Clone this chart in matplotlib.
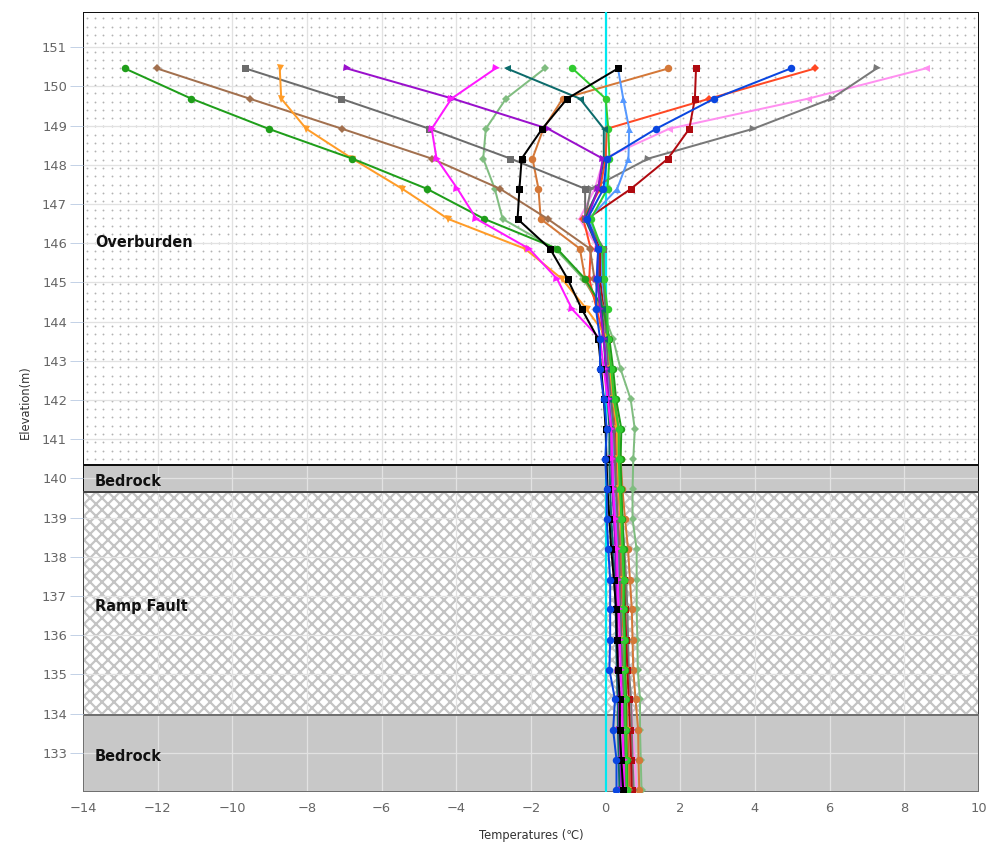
import numpy as np
import matplotlib
matplotlib.use("Agg")
import matplotlib.pyplot as plt
from matplotlib.patches import Rectangle

# elevations of the sensors (m)
elevation = [150.46, 149.69, 148.92, 148.16, 147.39, 146.62, 145.86, 145.09, 144.32,
             143.56, 142.79, 142.02, 141.26, 140.49, 139.72, 138.96, 138.19, 137.42,
             136.66, 135.89, 135.12, 134.36, 133.59, 132.82, 132.06]

# temperature profiles (degC)
t_green = [-12.88, -11.10, -9.03, -6.79, -4.79, -3.25, -1.30, -0.55, -0.06,
           0.10, 0.20, 0.28, 0.42, 0.40, 0.42, 0.45, 0.48, 0.50, 0.50, 0.52, 0.52, 0.55, 0.55, 0.57, 0.58]
t_sienna = [-12.02, -9.54, -7.06, -4.66, -2.83, -1.55, -0.42, -0.30, -0.05,
            0.05, 0.15, 0.22, 0.30, 0.32, 0.35, 0.40, 0.42, 0.45, 0.47, 0.50, 0.52, 0.55, 0.57, 0.60, 0.62]
t_gray_sq = [-9.65, -7.10, -4.72, -2.55, -0.55, -0.55, -0.06, -0.06, 0.00,
             0.02, 0.08, 0.15, 0.22, 0.25, 0.28, 0.32, 0.36, 0.38, 0.40, 0.42, 0.45, 0.48, 0.50, 0.52, 0.55]
t_orange = [-8.73, -8.69, -8.02, -6.79, -5.45, -4.22, -2.16, -1.17, -0.51,
            0.07, 0.12, 0.20, 0.30, 0.32, 0.35, 0.40, 0.45, 0.47, 0.48, 0.50, 0.52, 0.55, 0.56, 0.58, 0.59]
t_purple = [-6.93, -4.10, -1.54, -0.08, -0.20, -0.50, -0.20, -0.22, -0.15,
            -0.05, 0.02, 0.08, 0.15, 0.15, 0.18, 0.22, 0.26, 0.28, 0.30, 0.32, 0.34, 0.36, 0.37, 0.40, 0.42]
t_magenta = [-2.95, -4.13, -4.66, -4.53, -3.97, -3.46, -2.05, -1.30, -0.90,
             -0.15, -0.05, 0.05, 0.15, 0.18, 0.20, 0.25, 0.30, 0.32, 0.35, 0.38, 0.40, 0.43, 0.45, 0.48, 0.50]
t_teal = [-2.65, -0.69, -0.05, -0.05, -0.20, -0.55, -0.20, -0.20, -0.10,
          -0.05, 0.00, 0.05, 0.10, 0.10, 0.12, 0.15, 0.20, 0.25, 0.27, 0.28, 0.30, 0.32, 0.33, 0.35, 0.37]
t_sage = [-1.63, -2.67, -3.21, -3.28, -2.97, -2.76, -1.35, -0.60, -0.10,
          0.20, 0.40, 0.67, 0.78, 0.74, 0.72, 0.72, 0.83, 0.83, 0.83, 0.85, 0.86, 0.92, 0.92, 0.94, 0.96]
t_lime = [-0.89, 0.00, 0.07, 0.10, 0.05, -0.40, -0.10, -0.05, 0.05,
          0.05, 0.15, 0.22, 0.35, 0.35, 0.38, 0.42, 0.45, 0.48, 0.47, 0.50, 0.50, 0.52, 0.53, 0.55, 0.56]
t_black = [0.33, -1.03, -1.70, -2.25, -2.31, -2.36, -1.49, -1.02, -0.64,
           -0.20, -0.12, -0.05, 0.00, 0.02, 0.05, 0.10, 0.15, 0.22, 0.28, 0.30, 0.33, 0.38, 0.38, 0.42, 0.47]
t_skyblue = [0.33, 0.47, 0.63, 0.61, 0.31, -0.45, -0.10, -0.10, 0.00,
             0.00, 0.05, 0.10, 0.18, 0.20, 0.22, 0.28, 0.32, 0.36, 0.40, 0.42, 0.45, 0.50, 0.52, 0.55, 0.60]
t_choco = [1.68, -1.15, -1.67, -1.96, -1.80, -1.74, -0.69, -0.55, -0.15,
           0.05, 0.15, 0.25, 0.35, 0.40, 0.45, 0.52, 0.60, 0.65, 0.70, 0.72, 0.74, 0.80, 0.87, 0.88, 0.90]
t_darkred = [2.42, 2.39, 2.24, 1.67, 0.68, -0.50, -0.15, -0.15, -0.05,
             0.05, 0.12, 0.20, 0.28, 0.30, 0.35, 0.40, 0.45, 0.50, 0.52, 0.55, 0.58, 0.62, 0.65, 0.68, 0.70]
t_blue = [4.96, 2.91, 1.35, 0.03, -0.06, -0.49, -0.20, -0.24, -0.26,
          -0.15, -0.15, -0.05, 0.03, -0.01, 0.03, 0.03, 0.07, 0.12, 0.12, 0.12, 0.10, 0.25, 0.20, 0.29, 0.29]
t_redorange = [5.61, 2.78, 0.03, 0.00, -0.15, -0.60, -0.40, -0.44, -0.24,
               -0.05, 0.05, 0.12, 0.22, 0.25, 0.28, 0.33, 0.38, 0.42, 0.45, 0.48, 0.50, 0.55, 0.58, 0.62, 0.65]
t_gray_tri = [7.26, 6.05, 3.95, 1.14, -0.40, -0.55, -0.05, -0.05, 0.00,
              0.05, 0.12, 0.22, 0.32, 0.35, 0.40, 0.45, 0.50, 0.55, 0.58, 0.60, 0.62, 0.68, 0.70, 0.72, 0.75]
t_pink = [8.57, 5.43, 1.70, -0.05, -0.29, -0.70, -0.20, -0.25, -0.10,
          0.00, 0.08, 0.15, 0.25, 0.28, 0.32, 0.38, 0.42, 0.48, 0.52, 0.55, 0.60, 0.68, 0.72, 0.78, 0.83]

# geological layers: (name, bottom, top)
layer_names = ["Overburden", "Bedrock", "Ramp Fault", "Bedrock"]
layer_bottom = [140.34, 139.66, 133.97, 132.0]
layer_top = [151.9, 140.34, 139.66, 133.97]
label_y = [146.03, 139.93, 136.74, 132.91]

x_ticks = list(range(-14, 11, 2))
y_ticks = list(range(133, 152))

profiles = [
    (t_sage, "#80bd80", "D", 6),
    (t_pink, "#ff90f0", "<", 7),
    (t_choco, "#d47838", "o", 7.5),
    (t_gray_tri, "#787878", ">", 7),
    (t_redorange, "#ff4824", "D", 6),
    (t_darkred, "#b00a10", "s", 7),
    (t_skyblue, "#5598ff", "^", 7),
    (t_sienna, "#a2704e", "D", 5),
    (t_gray_sq, "#6c6c6c", "s", 7),
    (t_orange, "#ff9c28", "v", 7),
    (t_green, "#1f9e1a", "o", 7.5),
    (t_lime, "#30cc30", "o", 7.5),
    (t_teal, "#0c6b6b", "<", 7),
    (t_purple, "#9a10cc", ">", 7),
    (t_magenta, "#ff18ff", ">", 7),
    (t_black, "#000000", "s", 7),
    (t_blue, "#0a46e0", "o", 7.5),
]

plt.rcParams["hatch.linewidth"] = 2.2
fig = plt.figure(figsize=(987 / 72, 847 / 72), dpi=72)
ax = fig.add_axes([83 / 987, 1 - 792 / 847, 896 / 987, 780 / 847])
ax.set_xlim(-14, 10)
ax.set_ylim(132.0, 151.9)

# layer backgrounds
ax.add_patch(Rectangle((-14, layer_bottom[0]), 24, layer_top[0] - layer_bottom[0],
                       facecolor="white", edgecolor="none", zorder=0))
gx, gy = np.meshgrid(np.arange(-13.9, 10, 0.222), np.arange(140.5, 151.9, 0.212))
ax.scatter(gx.ravel(), gy.ravel(), s=3.5, color="#b2b2b2", linewidths=0, zorder=0.5)
ax.add_patch(Rectangle((-14, layer_bottom[2]), 24, layer_top[2] - layer_bottom[2],
                       facecolor="white", edgecolor="#c4c4c4", lw=0, hatch="xx", zorder=0))
for i in (1, 3):
    ax.add_patch(Rectangle((-14, layer_bottom[i]), 24, layer_top[i] - layer_bottom[i],
                           facecolor="#c8c8c8", edgecolor="none", zorder=0))

# grid
for xv in x_ticks:
    ax.axvline(xv, color="#e2e2e2", lw=1.3, zorder=1)
for yv in y_ticks:
    ax.axhline(yv, color="#e2e2e2", lw=1.3, zorder=1)

# layer outlines
edge_cols = ["#111111", "#111111", "#444444", "#707070"]
for i in range(4):
    ax.add_patch(Rectangle((-14, layer_bottom[i]), 24, layer_top[i] - layer_bottom[i],
                           fill=False, edgecolor=edge_cols[i], lw=2, zorder=1.2))

for name, yv in zip(layer_names, label_y):
    ax.text(-13.68, yv, name, fontsize=14.5, fontweight="bold", color="#111111",
            va="center", ha="left", zorder=1.1)

ax.axvline(0, color="#00e8f0", lw=2.2, zorder=2)

for vals, col, mk, ms in profiles:
    ax.plot(vals, elevation, color=col, lw=2, marker=mk, markersize=ms,
            markeredgewidth=0, zorder=3)

for s in ax.spines.values():
    s.set_visible(False)
ax.set_xticks(x_ticks)
ax.set_yticks(y_ticks)
ax.set_xticklabels(["\u2212" + str(-v) if v < 0 else str(v) for v in x_ticks])
ax.tick_params(axis="x", length=0, pad=10, labelsize=13, labelcolor="#666666")
ax.tick_params(axis="y", length=13, width=1, color="#c4d2e6", pad=3,
               labelsize=13, labelcolor="#666666")
ax.set_xlabel("Temperatures (\u2103)", fontsize=11.5, color="#333333", labelpad=14)
ax.set_ylabel("Elevation(m)", fontsize=11.5, color="#333333", labelpad=10)

fig.savefig("out.png", dpi=72)
